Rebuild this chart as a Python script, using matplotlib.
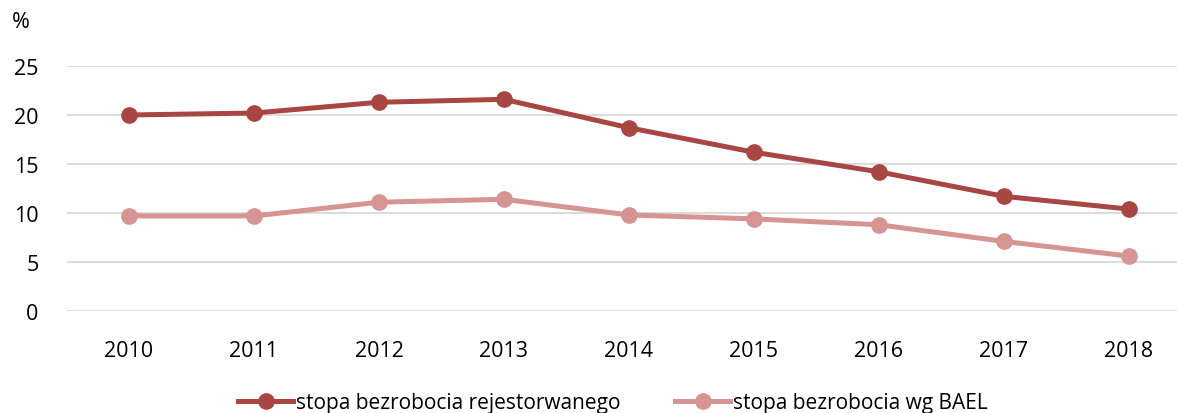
import matplotlib
matplotlib.use("Agg")
import matplotlib.pyplot as plt

years = ["2010", "2011", "2012", "2013", "2014", "2015", "2016", "2017", "2018"]
rejestrowane = [20.0, 20.2, 21.3, 21.6, 18.7, 16.2, 14.2, 11.7, 10.4]
bael = [9.7, 9.7, 11.1, 11.4, 9.8, 9.4, 8.8, 7.1, 5.6]
series_labels = ["stopa bezrobocia rejestorwanego", "stopa bezrobocia wg BAEL"]
yticks = [0, 5, 10, 15, 20, 25]

plt.rcParams['font.family'] = ['Open Sans', 'DejaVu Sans']

W, H = 1177, 414
fig = plt.figure(figsize=(W / 100, H / 100), dpi=100)
ax = fig.add_axes([66.5 / W, 1 - 312 / H, (1191.5 - 66.5) / W, (312 - 67) / H])

x = list(range(len(years)))
c1 = "#A84643"
c2 = "#D69492"
ax.plot(x, rejestrowane, color=c1, lw=3.6, marker="o", ms=11, label=series_labels[0], zorder=3)
ax.plot(x, bael, color=c2, lw=3.6, marker="o", ms=11, label=series_labels[1], zorder=3)

ax.set_xlim(-0.5, 8.5)
ax.set_ylim(0, 25)
ax.set_yticks(yticks)
ax.set_xticks(x)
ax.set_xticklabels(years)
ax.grid(axis="y", color="#D9D9D9", lw=1.3)
ax.set_axisbelow(True)
for s in ax.spines.values():
    s.set_visible(False)
ax.tick_params(axis="both", length=0, labelsize=15.5, colors="black")
ax.tick_params(axis="x", pad=21)
ax.tick_params(axis="y", pad=20)

fig.text(12 / W, 1 - 23 / H, "%", fontsize=15.5, va="center", ha="left")

leg = fig.legend(loc="center left", bbox_to_anchor=(238 / W, 1 - 404 / H), ncol=2, frameon=False,
                 fontsize=15, handlelength=2.65, columnspacing=2.6, handletextpad=0.15,
                 borderpad=0, borderaxespad=0)

fig.savefig("out.png", dpi=100)
